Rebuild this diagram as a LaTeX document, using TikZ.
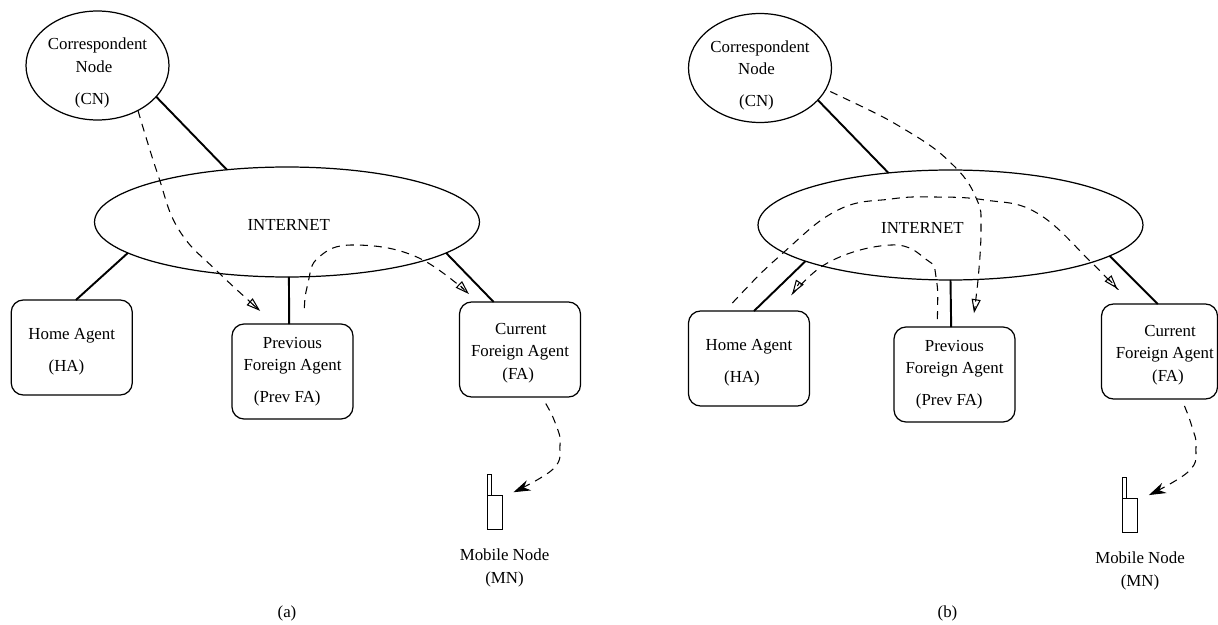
\documentclass[tikz,border=0pt]{standalone}
\usepackage{fontspec}
\setmainfont{Liberation Serif}
\usetikzlibrary{arrows.meta,shapes.geometric}
\tikzset{
  every node/.style={font=\fontsize{9.6}{13}\selectfont,align=center,inner sep=0pt,outer sep=0pt},
  host/.style={draw,ellipse,inner sep=-5pt,line width=0.7pt,minimum width=2.86cm,minimum height=2.18cm},
  cloud/.style={draw,ellipse,line width=0.7pt,minimum width=7.7cm,minimum height=2.2cm},
  agent/.style={draw,rounded corners=2.4mm,line width=0.7pt,minimum width=2.42cm,minimum height=1.9cm},
  phone/.style={draw,line width=0.5pt,minimum width=0.3cm,minimum height=0.68cm},
  aerial/.style={draw,line width=0.5pt,minimum width=0.09cm,minimum height=0.42cm},
  link/.style={line width=1.1pt},
  flow/.style={line width=0.6pt,dash pattern=on 4.5pt off 3.5pt,-{Triangle[open,length=2.8mm,width=1.8mm]}},
  lastflow/.style={line width=0.6pt,dash pattern=on 4.5pt off 3.5pt,-{Stealth[length=3.4mm,width=2.2mm]}}
}
\begin{document}
\begin{tikzpicture}[x=0.02cm,y=-0.02cm]
  \useasboundingbox (0,0) rectangle (1218,625);

  % Panel (a)
  \node[host] (cnA) at (97.5,65.5) {\rule{0pt}{15pt}Correspondent\\\hspace*{-4pt}Node\\[5pt]\hspace*{-6pt}(CN)};
  \node[cloud] (netA) at (287,222) {\rule{0pt}{10pt}\hspace*{2pt}INTERNET};
  \node[agent] (homeA) at (71.75,347.5) {\rule{0pt}{11.5pt}Home Agent\\[5pt]\hspace*{-6pt}(HA)};
  \node[agent] (prevA) at (292.5,371.5) {Previous\\Foreign Agent\\[5pt]\hspace*{-6pt}(Prev FA)};
  \node[agent] (curA) at (520,349.5) {\rule{0pt}{10.5pt}\hspace*{1pt}Current\\Foreign Agent\hspace*{4.5pt}\\\hspace*{-2pt}(FA)};
  \node[phone] (phoneA) at (494.5,512) {};
  \node[aerial] (aerialA) at (489.25,484.5) {};
  \node (mobileA) at (504.5,568) {Mobile Node\\(MN)};
  \node (capA) at (287,613) {(a)};

  \draw[link] (cnA.-28) -- (netA.139.5);
  \draw[link] (netA.191.8) -- (homeA.85);
  \draw[link] (netA.-88) -- (prevA.94);
  \draw[link] (netA.-11) -- (curA.119.6);

  \draw[flow,shorten >=4mm] plot[smooth,tension=0.7] coordinates {(cnA.-48) (158,175) (179,230) (219,273) (prevA.110)};
  \draw[flow,shorten <=3.2mm,shorten >=2.3mm] plot[smooth,tension=0.7] coordinates {(prevA.77.5) (308,283) (319,257) (354,245) (419,258) (curA.132.8)};
  \draw[lastflow,shorten <=1.5mm,shorten >=2.5mm] plot[smooth,tension=0.7] coordinates {(curA.-65.6) (556,425) (560,445) (552,470) (phoneA.63.4)};

  % Panel (b)
  \node[host] (cnB) at (760,68) {\rule{0pt}{15pt}Correspondent\\\hspace*{-4pt}Node\\[5pt]\hspace*{-4pt}(CN)};
  \node[cloud] (netB) at (950.5,225) {\rule{0pt}{10pt}\hspace*{-32pt}INTERNET};
  \node[agent] (homeB) at (749,358.5) {\rule{0pt}{11.5pt}Home Agent\\[5pt]\hspace*{-8pt}(HA)};
  \node[agent] (prevB) at (954.5,374.5) {Previous\\Foreign Agent\\[5pt]\hspace*{-6pt}(Prev FA)};
  \node[agent,minimum width=2.32cm] (curB) at (1159.5,351.5) {\rule{0pt}{10.5pt}\hspace*{12pt}Current\\\hspace*{6pt}Foreign Agent\\\hspace*{9.6pt}(FA)};
  \node[phone] (phoneB) at (1130,515) {};
  \node[aerial] (aerialB) at (1124.25,487.5) {};
  \node (mobileB) at (1140,571) {Mobile Node\\(MN)};
  \node (capB) at (947.5,613) {(b)};

  \draw[link] (cnB.-29) -- (netB.140.2);
  \draw[link] (netB.194.8) -- (homeB.84);
  \draw[link] (netB.-90) -- (prevB.94.2);
  \draw[link] (netB.-11.3) -- (curB.92.4);

  \draw[flow,shorten <=1mm,shorten >=2.8mm] plot[smooth,tension=0.7] coordinates {(cnB.-18) (909,132) (955,167) (977,200) (981,227) (978,280) (prevB.70.3)};
  \draw[flow,shorten <=2.2mm,shorten >=4.1mm] plot[smooth,tension=0.7] coordinates {(homeB.117.8) (783,253) (838,210) (891,199) (934,197) (985,200) (1037,213) (1091,262) (curB.121.8)};
  \draw[flow,shorten <=1.6mm,shorten >=4.1mm] plot[smooth,tension=0.7] coordinates {(prevB.110.2) (936,277) (927,260) (891,245) (824,265) (homeB.56)};
  \draw[lastflow,shorten <=1.5mm,shorten >=2.5mm] plot[smooth,tension=0.7] coordinates {(curB.-65.6) (1192,427) (1196,447) (1188,472) (phoneB.63.4)};
\end{tikzpicture}
\end{document}
